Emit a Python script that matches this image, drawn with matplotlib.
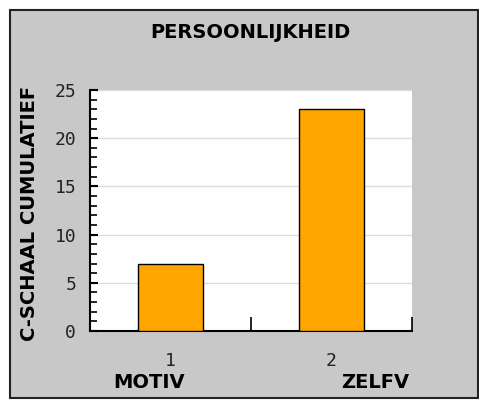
import matplotlib
matplotlib.use("Agg")
import matplotlib.pyplot as plt
from matplotlib.patches import Rectangle
from matplotlib.ticker import MultipleLocator, FixedLocator

# ====== DATA ======
categories = ["MOTIV", "ZELFV"]
numbers = ["1", "2"]
values = [7, 23]
title = "PERSOONLIJKHEID"
ylabel = "C-SCHAAL CUMULATIEF"

# ====== STYLE ======
BG = "#c8c8c8"
BAR = "#ffa500"
W, H = 479, 400
MONO = "DejaVu Sans Mono"
BOLD = "DejaVu Sans"
name_offsets = [-21, 44]  # px shift of category name vs. tick centre

fig = plt.figure(figsize=(W / 100, H / 100), dpi=100)
fig.patch.set_facecolor("white")

# grey panel with dark frame
fig.patches.append(Rectangle((10 / W, 2 / H), 468 / W, 388 / H,
                             transform=fig.transFigure, facecolor=BG,
                             edgecolor="#222222", linewidth=1.5, zorder=-5))

ax = fig.add_axes([90 / W, (H - 331) / H, 322 / W, 241 / H])
ax.set_facecolor("white")

x = list(range(len(values)))
ax.bar(x, values, width=0.4, color=BAR, edgecolor="black", linewidth=1, zorder=3)

ax.set_xlim(-0.5, len(values) - 0.5)
ax.set_ylim(0, 25)

# grid
ax.yaxis.set_major_locator(MultipleLocator(5))
ax.yaxis.set_minor_locator(MultipleLocator(1))
ax.grid(axis="y", which="major", color="#dddddd", linewidth=1, zorder=1)
ax.set_axisbelow(True)

for s in ["top", "right"]:
    ax.spines[s].set_visible(False)
for s in ["left", "bottom"]:
    ax.spines[s].set_color("black")
    ax.spines[s].set_linewidth(1.5)

ax.tick_params(axis="y", which="major", direction="in", length=6, width=1.5,
               pad=10, labelsize=13, labelcolor="#222222")
ax.tick_params(axis="y", which="minor", direction="in", length=5, width=1.2)
for lab in ax.get_yticklabels():
    lab.set_family(MONO)

ax.set_xticks(x)
ax.set_xticklabels(numbers, family=MONO, fontsize=13, color="#222222")
ax.tick_params(axis="x", which="major", length=0, pad=15)
ax.xaxis.set_minor_locator(FixedLocator([i + 0.5 for i in x]))
ax.tick_params(axis="x", which="minor", direction="in", length=10, width=1.2)

for i, name in enumerate(categories):
    ax.annotate(name, xy=(i, 0), xycoords=("data", "axes fraction"),
                xytext=(name_offsets[i] * 0.72, -52 * 0.72), textcoords="offset points",
                ha="center", va="center", family=BOLD, fontweight="bold",
                fontsize=14, color="black")

fig.text(250 / W, (H - 33) / H, title, ha="center", va="center",
         family=BOLD, fontweight="bold", fontsize=14)
fig.text(30 / W, (H - 213) / H, ylabel, ha="center", va="center", rotation=90,
         family=BOLD, fontweight="bold", fontsize=14)

fig.savefig("out.png", dpi=100, facecolor=fig.get_facecolor())
